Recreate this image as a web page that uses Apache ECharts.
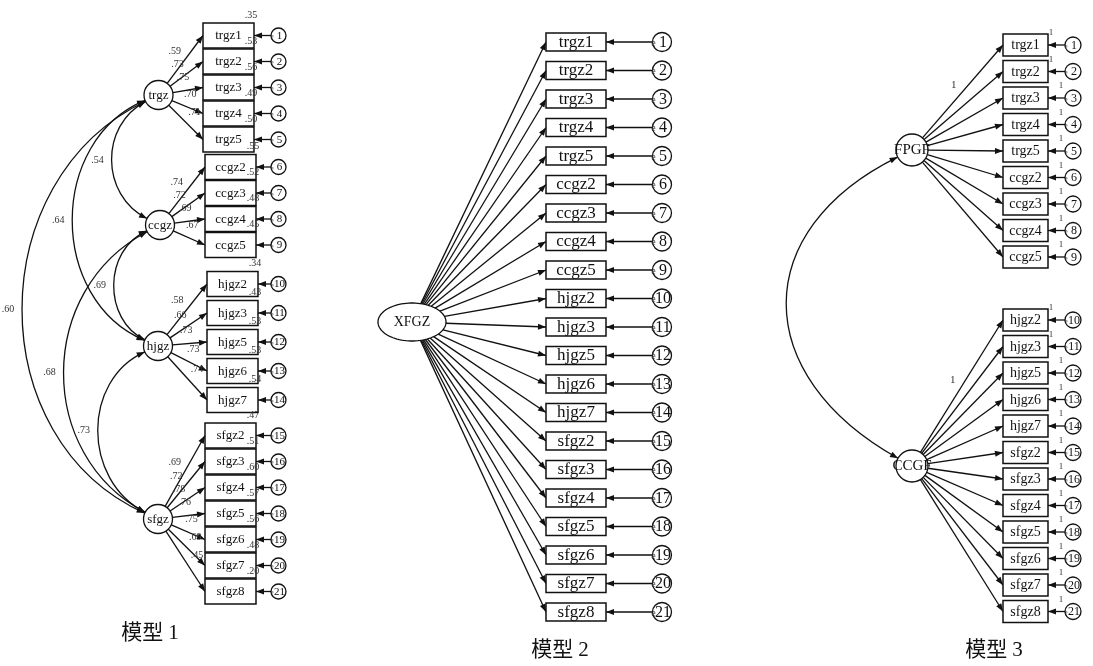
<!DOCTYPE html>
<html><head><meta charset="utf-8">
<script src="https://cdn.jsdelivr.net/npm/echarts@6.0.0/dist/echarts.min.js"></script>
<style>html,body{margin:0;padding:0;background:#fff}#c{width:1093px;height:666px}</style>
</head><body><div id="c"></div><script>
// ---------------- data ----------------
const INDICATORS = ['trgz1','trgz2','trgz3','trgz4','trgz5','ccgz2','ccgz3','ccgz4','ccgz5','hjgz2','hjgz3','hjgz5','hjgz6','hjgz7','sfgz2','sfgz3','sfgz4','sfgz5','sfgz6','sfgz7','sfgz8'];
const ERRORS = ['e1','e2','e3','e4','e5','e6','e7','e8','e9','e10','e11','e12','e13','e14','e15','e16','e17','e18','e19','e20','e21'];
const M1_FACTORS = ['trgz','ccgz','hjgz','sfgz'];
const M1_LOADINGS = [0.59,0.73,0.75,0.70,0.71,0.74,0.72,0.69,0.67,0.58,0.66,0.73,0.73,0.74,0.69,0.72,0.78,0.76,0.75,0.69,0.45];
const M1_R2 = [0.35,0.53,0.56,0.49,0.50,0.55,0.52,0.48,0.45,0.34,0.43,0.53,0.53,0.54,0.47,0.51,0.60,0.57,0.56,0.48,0.20];
const M1_CORR_FROM = ['trgz','trgz','trgz','ccgz','ccgz','hjgz'];
const M1_CORR_TO   = ['ccgz','hjgz','sfgz','hjgz','sfgz','sfgz'];
const M1_CORR      = [0.54,0.64,0.60,0.69,0.68,0.73];
const M2_FACTOR = 'XFGZ';
const M3_FACTORS = ['FPGF','CCGF'];
const M3_GROUPS = [['trgz','ccgz'],['hjgz','sfgz']];
const M3_FIXED_LOADING = '1';
const M3_ERROR_WEIGHT = '1';
const TITLES = ['模型 1','模型 2','模型 3'];

// ---------------- layout (drawing units = axis units) ----------------
const L1 = {
  lat: {trgz:[158.5,95], ccgz:[160,225], hjgz:[158,346], sfgz:[158,519]},
  rows: {trgz:[35.5,26,203], ccgz:[167,26,205], hjgz:[284,29,207], sfgz:[435.5,26,205]},
  r:14.5, bw:51, bh:25, errX:278.5, er:7.5, boxFs:13, latFs:13, errFs:11, lblFs:10,
  curves: [[100,125,195],[48,140,300],[-19,180,440],[103,250,320],[36,290,455],[82,380,480]],
  title:[150,633]
};
const L2 = {ell:[412,322,34,19], y0:42, dy:28.5, bx:546, bw:60, bh:18, ex:56, er:9.5, boxFs:17, errFs:16, latFs:14, title:[560,650]};
const L3 = {lat:[[912,150],[912,466]], y0:[45,320], dy:26.5, bx:1003, bw:45, bh:22, r:16, ex:25, er:8, boxFs:14, latFs:15, errFs:12, arc:[749,230,375], title:[994,650]};

const SERIF = "'Liberation Serif','DejaVu Serif',serif";
const TITLE_FONT = "'Liberation Serif','Noto Sans CJK SC',serif";
const fmt = v => v.toFixed(2).replace(/^0/, '');
const prefix = n => n.replace(/\d+$/, '');
const unit = (dx, dy) => { const d = Math.hypot(dx, dy); return [dx/d, dy/d]; };

const BACK = [], MID = [], FRONT = [];
const line = (x1,y1,x2,y2,head) => BACK.push({t:'line',x1,y1,x2,y2,head});
const text = (x,y,s,fs,o) => FRONT.push(Object.assign({t:'text',x,y,s,fs},o||{}));
const box = (x,y,w,h,s,fs) => MID.push({t:'box',x,y,w,h,s,fs});
const circ = (cx,cy,r,s,fs) => MID.push({t:'circle',cx,cy,r,s,fs});
const errCirc = (cx,cy,r,s,fs) => MID.push({t:'err',cx,cy,r,s,fs});

// ---------- Model 1 ----------
(function(){
  const count = {};
  INDICATORS.forEach((name, i) => {
    const f = prefix(name);
    const k = count[f] = (count[f] === undefined ? 0 : count[f] + 1);
    const [y0, dy, bx] = L1.rows[f];
    const y = y0 + dy * k;
    const [cx, cy] = L1.lat[f];
    const u = unit(bx - cx, y - cy);
    line(cx + u[0]*L1.r, cy + u[1]*L1.r, bx, y, true);
    const len = Math.hypot(bx - cx, y - cy);
    const px = cx + u[0]*len*0.6, py = cy + u[1]*len*0.6;
    text(px + u[1]*13, py - u[0]*13, fmt(M1_LOADINGS[i]), L1.lblFs, {fill:'#333'});
    box(bx, y, L1.bw, L1.bh, name, L1.boxFs);
    line(L1.errX - L1.er, y, bx + L1.bw, y, true);
    errCirc(L1.errX, y, L1.er, ERRORS[i], L1.errFs);
    text(bx + L1.bw - 3, y - L1.bh/2 - 8, fmt(M1_R2[i]), L1.lblFs, {fill:'#333'});
  });
  M1_FACTORS.forEach(f => circ(L1.lat[f][0], L1.lat[f][1], L1.r, f, L1.latFs));
  M1_CORR.forEach((v, j) => {
    const a = L1.lat[M1_CORR_FROM[j]], b = L1.lat[M1_CORR_TO[j]];
    const [ccx, y1, y2] = L1.curves[j];
    const ua = unit(ccx - a[0], y1 - a[1]), ub = unit(ccx - b[0], y2 - b[1]);
    const p0 = [a[0] + ua[0]*L1.r, a[1] + ua[1]*L1.r];
    const p3 = [b[0] + ub[0]*L1.r, b[1] + ub[1]*L1.r];
    BACK.push({t:'curve', p:[p0,[ccx,y1],[ccx,y2],p3]});
    const mx = (p0[0] + 6*ccx + p3[0]) / 8, my = (p0[1] + 3*y1 + 3*y2 + p3[1]) / 8;
    text(mx - 14, my, fmt(v), L1.lblFs, {fill:'#333'});
  });
  text(L1.title[0], L1.title[1], TITLES[0], 21, {family:TITLE_FONT});
})();

// ---------- Model 2 ----------
(function(){
  const [ex0, ey0, rx, ry] = L2.ell;
  INDICATORS.forEach((name, i) => {
    const y = L2.y0 + L2.dy * i;
    const u = unit(L2.bx - ex0, y - ey0);
    const t = 1 / Math.sqrt((u[0]/rx)**2 + (u[1]/ry)**2);
    line(ex0 + u[0]*t, ey0 + u[1]*t, L2.bx, y, true);
    box(L2.bx, y, L2.bw, L2.bh, name, L2.boxFs);
    const ecx = L2.bx + L2.bw + L2.ex;
    line(ecx - L2.er, y, L2.bx + L2.bw, y, true);
    errCirc(ecx, y, L2.er, ERRORS[i], L2.errFs);
  });
  MID.push({t:'ellipse', cx:ex0, cy:ey0, rx, ry, s:M2_FACTOR, fs:L2.latFs});
  text(L2.title[0], L2.title[1], TITLES[1], 21, {family:TITLE_FONT});
})();

// ---------- Model 3 ----------
(function(){
  M3_FACTORS.forEach((fac, g) => {
    const [cx, cy] = L3.lat[g];
    const members = INDICATORS.map((n, i) => [n, i]).filter(([n]) => M3_GROUPS[g].includes(prefix(n)));
    members.forEach(([name, i], k) => {
      const y = L3.y0[g] + L3.dy * k;
      const u = unit(L3.bx - cx, y - cy);
      line(cx + u[0]*L3.r, cy + u[1]*L3.r, L3.bx, y, true);
      if (k === 0) {
        const len = Math.hypot(L3.bx - cx, y - cy);
        const px = cx + u[0]*len*0.55, py = cy + u[1]*len*0.55;
        text(px + u[1]*11, py - u[0]*11, M3_FIXED_LOADING, 11, {fill:'#333'});
      }
      box(L3.bx, y, L3.bw, L3.bh, name, L3.boxFs);
      const ecx = L3.bx + L3.bw + L3.ex;
      line(ecx - L3.er, y, L3.bx + L3.bw, y, true);
      errCirc(ecx, y, L3.er, ERRORS[i], L3.errFs);
      text(L3.bx + L3.bw + (k < 2 ? 3 : 13), y - L3.bh/2 - 1, M3_ERROR_WEIGHT, 9, {fill:'#333'});
    });
    circ(cx, cy, L3.r, fac, L3.latFs);
  });
  const a = L3.lat[0], b = L3.lat[1];
  const [ccx, y1, y2] = L3.arc;
  const ua = unit(ccx - a[0], y1 - a[1]), ub = unit(ccx - b[0], y2 - b[1]);
  BACK.push({t:'curve', p:[[a[0]+ua[0]*L3.r, a[1]+ua[1]*L3.r],[ccx,y1],[ccx,y2],[b[0]+ub[0]*L3.r, b[1]+ub[1]*L3.r]]});
  text(L3.title[0], L3.title[1], TITLES[2], 21, {family:TITLE_FONT});
})();

const ELEMS = BACK.concat(MID, FRONT);

// ---------------- rendering ----------------
function head(tip, from, len, hw) {
  len = len || 8; hw = hw || 3;
  const u = unit(tip[0] - from[0], tip[1] - from[1]);
  const bx = tip[0] - u[0]*len, by = tip[1] - u[1]*len;
  return {type:'polygon', shape:{points:[tip, [bx - u[1]*hw, by + u[0]*hw], [bx + u[1]*hw, by - u[0]*hw]]}, style:{fill:'#111'}};
}
function txt(x, y, s, fs, fam, fill) {
  return {type:'text', style:{text:s, x, y, align:'center', verticalAlign:'middle', font: fs + 'px ' + (fam || SERIF), fill: fill || '#111'}};
}
function renderItem(params, api) {
  const e = ELEMS[params.dataIndex];
  const c = p => api.coord(p);
  if (e.t === 'line') {
    const a = c([e.x1, e.y1]), b = c([e.x2, e.y2]);
    const ch = [{type:'line', shape:{x1:a[0], y1:a[1], x2:b[0], y2:b[1]}, style:{stroke:'#111', lineWidth:1.3}}];
    if (e.head) ch.push(head(b, a));
    return {type:'group', children:ch};
  }
  if (e.t === 'curve') {
    const p = e.p.map(c);
    return {type:'group', children:[
      {type:'bezierCurve', shape:{x1:p[0][0], y1:p[0][1], cpx1:p[1][0], cpy1:p[1][1], cpx2:p[2][0], cpy2:p[2][1], x2:p[3][0], y2:p[3][1]}, style:{stroke:'#111', lineWidth:1.3, fill:'none'}},
      head(p[0], p[1]), head(p[3], p[2])
    ]};
  }
  if (e.t === 'box') {
    const p1 = c([e.x, e.y - e.h/2]), p2 = c([e.x + e.w, e.y + e.h/2]);
    return {type:'group', children:[
      {type:'rect', shape:{x:p1[0], y:p1[1], width:p2[0]-p1[0], height:p2[1]-p1[1]}, style:{fill:'#fff', stroke:'#111', lineWidth:1.5}},
      txt((p1[0]+p2[0])/2, (p1[1]+p2[1])/2 + 0.5, e.s, e.fs)
    ]};
  }
  if (e.t === 'circle' || e.t === 'err') {
    const p = c([e.cx, e.cy]); const r = api.size([e.r, e.r])[0];
    const ch = [{type:'circle', shape:{cx:p[0], cy:p[1], r}, style:{fill:'#fff', stroke:'#111', lineWidth:1.3}}];
    if (e.t === 'err') {
      ch.push(txt(p[0] + 1, p[1] + 0.5, e.s.slice(1), e.fs));
      ch.push(txt(p[0] - r + 1, p[1] + 1, 'e', Math.round(e.fs*0.6), null, '#333'));
    } else ch.push(txt(p[0], p[1] + 0.5, e.s, e.fs));
    return {type:'group', children:ch};
  }
  if (e.t === 'ellipse') {
    const p = c([e.cx, e.cy]); const s = api.size([e.rx, e.ry]);
    const pts = [];
    for (let k = 0; k < 90; k++) { const a = k / 90 * Math.PI * 2; pts.push([p[0] + s[0]*Math.cos(a), p[1] + s[1]*Math.sin(a)]); }
    return {type:'group', children:[
      {type:'polygon', shape:{points:pts}, style:{fill:'#fff', stroke:'#111', lineWidth:1.3}},
      txt(p[0], p[1] + 0.5, e.s, e.fs)
    ]};
  }
  if (e.t === 'text') {
    const p = c([e.x, e.y]);
    return txt(p[0], p[1], e.s, e.fs, e.family, e.fill);
  }
  return null;
}

const chart = echarts.init(document.getElementById('c'));
chart.setOption({
  animation: false,
  backgroundColor: '#fff',
  grid: {left:0, right:0, top:0, bottom:0},
  xAxis: {type:'value', min:0, max:1093, show:false},
  yAxis: {type:'value', min:0, max:666, inverse:true, show:false},
  series: [{
    type: 'custom',
    clip: false,
    renderItem,
    data: ELEMS.map((e, i) => [0, 0, i]),
    encode: {x:0, y:1},
    silent: true
  }]
});
</script></body></html>
